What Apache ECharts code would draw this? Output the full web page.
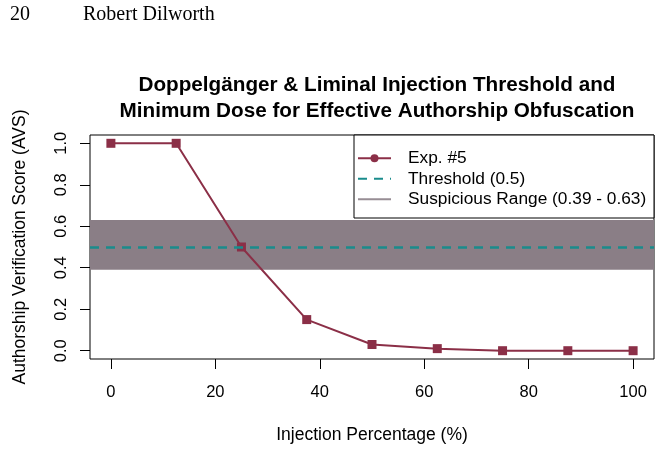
<!DOCTYPE html>
<html>
<head>
<meta charset="utf-8">
<script src="https://cdn.jsdelivr.net/npm/echarts@6/dist/echarts.min.js"></script>
<style>
  html, body { margin: 0; padding: 0; background: #fff; }
  #chart { width: 661px; height: 449px; }
</style>
</head>
<body>
<div id="chart"></div>
<script>
// data
const injectionPct = [0, 12.5, 25, 37.5, 50, 62.5, 75, 87.5, 100]
const avsScores = [1.0, 1.0, 0.5, 0.15, 0.03, 0.01, 0.0, 0.0, 0.0]
const threshold = 0.5
const suspiciousRange = [0.39, 0.63]
const xTicks = [0, 20, 40, 60, 80, 100]
const yTicks = [0, 0.2, 0.4, 0.6, 0.8, 1.0]

const lineColor = '#8b2f47'
const teal = '#1a8c8c'
const bandColor = '#8a7e86'
const font = 'Liberation Sans, Arial, sans-serif'

let chart = echarts.init(document.getElementById('chart'))

let option = {
  animation: false,
  textStyle: { fontFamily: font, color: '#000' },
  title: [
    {
      text: '20',
      left: 5, top: 0,
      textStyle: { fontFamily: 'Liberation Serif, serif', fontWeight: 'normal', fontSize: 20, color: '#000' }
    },
    {
      text: 'Robert Dilworth',
      left: 78, top: 0,
      textStyle: { fontFamily: 'Liberation Serif, serif', fontWeight: 'normal', fontSize: 20, color: '#000' }
    },
    {
      text: 'Doppelgänger & Liminal Injection Threshold and\nMinimum Dose for Effective Authorship Obfuscation',
      left: 372, top: 67,
      textAlign: 'center',
      textStyle: { fontFamily: font, fontWeight: 'bold', fontSize: 20.7, lineHeight: 26, color: '#000' }
    }
  ],
  grid: {
    left: 90, right: 7, top: 135, bottom: 90,
    show: true, borderColor: '#000', borderWidth: 1, backgroundColor: 'transparent'
  },
  legend: {
    orient: 'vertical',
    left: 357, top: 148,
    z: 10,
    padding: 0,
    itemGap: 0,
    itemWidth: 33,
    itemHeight: 10,
    textStyle: { fontFamily: font, fontSize: 17.3, color: '#000', lineHeight: 20.5, padding: [0, 0, 0, 12] },
    data: ['Exp. #5', 'Threshold (0.5)', 'Suspicious Range (0.39 - 0.63)']
  },
  graphic: [
    {
      type: 'rect',
      shape: { x: 354, y: 135, width: 300, height: 83 },
      style: { fill: '#fff', stroke: '#000', lineWidth: 1 },
      z: 2
    }
  ],
  xAxis: {
    type: 'value',
    min: -4, max: 104,
    name: 'Injection Percentage (%)',
    nameLocation: 'middle',
    nameGap: 67,
    nameTextStyle: { fontFamily: font, fontSize: 17.5, color: '#000' },
    axisLine: { show: false, onZero: false },
    splitLine: { show: false },
    axisTick: { show: true, length: 10, lineStyle: { color: '#000' }, customValues: xTicks },
    axisLabel: { fontSize: 16.5, color: '#000', margin: 25, customValues: xTicks }
  },
  yAxis: {
    type: 'value',
    min: -0.04, max: 1.04,
    name: 'Authorship Verification Score (AVS)',
    nameLocation: 'middle',
    nameGap: 61,
    nameTextStyle: { fontFamily: font, fontSize: 17.5, color: '#000' },
    axisLine: { show: false, onZero: false },
    splitLine: { show: false },
    axisTick: { show: true, length: 10, lineStyle: { color: '#000' }, customValues: yTicks },
    axisLabel: {
      fontSize: 16.5, color: '#000', margin: 20, rotate: 90,
      customValues: yTicks,
      formatter: v => v.toFixed(1)
    }
  },
  series: [
    {
      // legend entry only (circle marker like the R legend)
      name: 'Exp. #5',
      type: 'line',
      data: [],
      symbol: 'circle',
      itemStyle: { color: lineColor },
      lineStyle: { color: lineColor, width: 2 }
    },
    {
      name: 'Suspicious Range (0.39 - 0.63)',
      type: 'line',
      data: [],
      symbol: 'none',
      z: 1,
      itemStyle: { color: 'rgba(0,0,0,0)' },
      lineStyle: { color: '#978d94', width: 2 },
      markArea: {
        silent: true,
        itemStyle: { color: bandColor },
        data: [[{ yAxis: suspiciousRange[0] }, { yAxis: suspiciousRange[1] }]]
      }
    },
    {
      name: 'Exp. #5',
      type: 'line',
      z: 3,
      data: injectionPct.map((x, i) => [x, avsScores[i]]),
      symbol: 'rect',
      symbolSize: 9,
      itemStyle: { color: lineColor },
      lineStyle: { color: lineColor, width: 2 }
    },
    {
      name: 'Threshold (0.5)',
      type: 'line',
      data: [],
      symbol: 'none',
      z: 4,
      itemStyle: { color: 'rgba(0,0,0,0)' },
      lineStyle: { color: teal, width: 2.5, type: [9, 7] },
      markLine: {
        silent: true,
        symbol: 'none',
        label: { show: false },
        lineStyle: { color: teal, width: 2.5, type: [9, 7] },
        data: [{ yAxis: threshold }]
      }
    }
  ]
}

chart.setOption(option)
</script>
</body>
</html>
